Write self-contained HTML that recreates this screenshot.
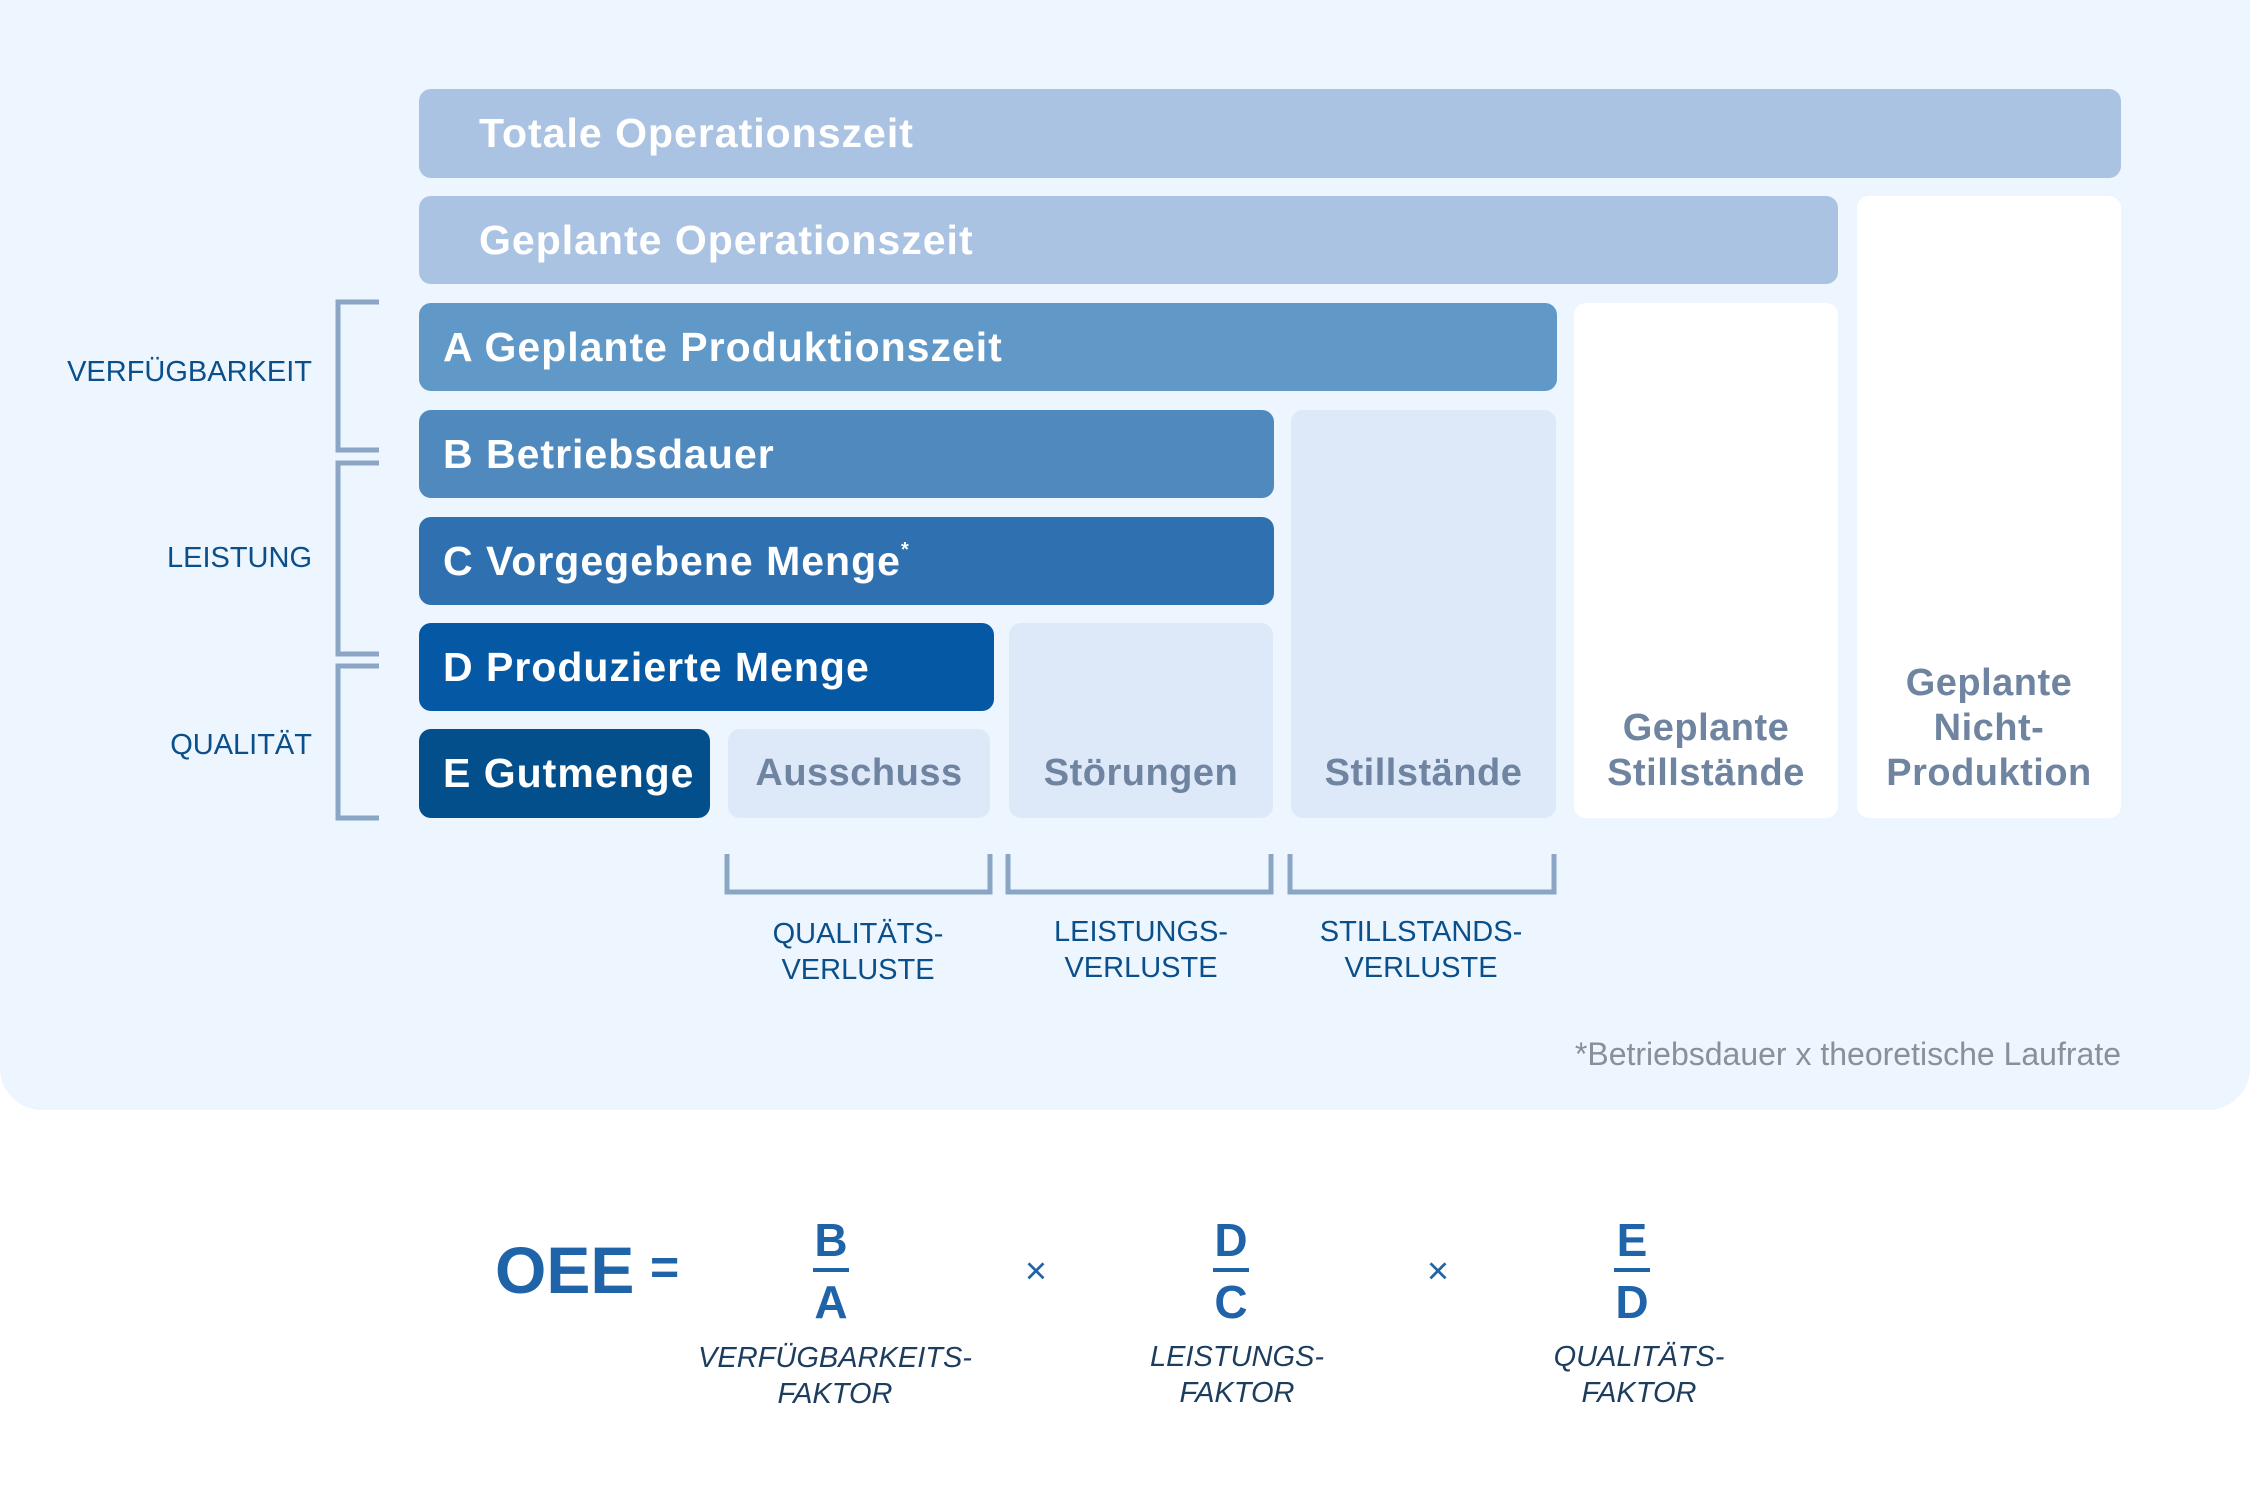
<!DOCTYPE html>
<html><head><meta charset="utf-8"><style>
*{margin:0;padding:0;box-sizing:border-box}
body{width:2250px;height:1494px;background:#fff;position:relative;overflow:hidden;font-family:"Liberation Sans",sans-serif}
.panel{position:absolute;left:0;top:0;width:2250px;height:1110px;background:#edf5fe;border-radius:0 0 42px 42px}
.b{position:absolute;border-radius:12px;color:#fff;font-weight:bold;font-size:41px;letter-spacing:1px;display:flex;align-items:center;padding-left:24px;white-space:nowrap}
.l{position:absolute;border-radius:12px;color:#6f84a0;font-weight:bold;font-size:38px;letter-spacing:0.5px;display:flex;align-items:flex-end;justify-content:center;text-align:center;padding-bottom:22px;line-height:45px}
.lab{position:absolute;color:#0a4f8a;font-size:29px;white-space:nowrap}
.c{position:absolute;color:#0a4f8a;font-size:29px;text-align:center;line-height:36px;transform:translateX(-50%)}
.f{position:absolute;color:#1f63a8;font-weight:bold;font-size:46px;transform:translate(-50%,-50%)}
.cap{position:absolute;color:#1d3d5e;font-style:italic;font-size:29px;text-align:center;line-height:36px;transform:translateX(-50%)}
</style></head><body>
<div class="panel"></div>
<div class="b" style="left:419px;top:89px;width:1702px;height:89px;background:#abc3e2;padding-left:60px">Totale Operationszeit</div>
<div class="b" style="left:419px;top:196px;width:1419px;height:88px;background:#abc3e2;padding-left:60px">Geplante Operationszeit</div>
<div class="l" style="left:1857px;top:196px;width:264px;height:622px;background:#fff">Geplante<br>Nicht-<br>Produktion</div>
<div class="b" style="left:419px;top:303px;width:1138px;height:88px;background:#6098c7">A Geplante Produktionszeit</div>
<div class="l" style="left:1574px;top:303px;width:264px;height:515px;background:#fff">Geplante<br>Stillstände</div>
<div class="b" style="left:419px;top:410px;width:855px;height:88px;background:#5089bd">B Betriebsdauer</div>
<div class="l" style="left:1291px;top:410px;width:265px;height:408px;background:#dde9f9">Stillstände</div>
<div class="b" style="left:419px;top:517px;width:855px;height:88px;background:#2f71b0">C Vorgegebene Menge<sup style="font-size:20px;align-self:flex-start;margin-top:22px">*</sup></div>
<div class="b" style="left:419px;top:623px;width:575px;height:88px;background:#0558a4">D Produzierte Menge</div>
<div class="l" style="left:1009px;top:623px;width:264px;height:195px;background:#dde9f9">Störungen</div>
<div class="b" style="left:419px;top:729px;width:291px;height:89px;background:#034f8c">E Gutmenge</div>
<div class="l" style="left:728px;top:729px;width:262px;height:89px;background:#dde9f9">Ausschuss</div>

<svg style="position:absolute;left:0;top:0" width="2250" height="1110">
<g fill="none" stroke="#8aa6c4" stroke-width="5">
<polyline points="379,302 338,302 338,450 379,450"/>
<polyline points="379,463 338,463 338,654 379,654"/>
<polyline points="379,666 338,666 338,818 379,818"/>
<polyline points="727,854 727,892 990,892 990,854"/>
<polyline points="1008,854 1008,892 1271,892 1271,854"/>
<polyline points="1290,854 1290,892 1554,892 1554,854"/>
</g></svg>
<div class="lab" style="right:1938px;top:356px">VERFÜGBARKEIT</div>
<div class="lab" style="right:1938px;top:542px">LEISTUNG</div>
<div class="lab" style="right:1938px;top:729px">QUALITÄT</div>
<div class="c" style="left:858px;top:916px">QUALITÄTS-<br>VERLUSTE</div>
<div class="c" style="left:1141px;top:914px">LEISTUNGS-<br>VERLUSTE</div>
<div class="c" style="left:1421px;top:914px">STILLSTANDS-<br>VERLUSTE</div>
<div style="position:absolute;right:129px;top:1036px;color:#8a8f99;font-size:32px">*Betriebsdauer x theoretische Laufrate</div>

<div style="position:absolute;left:495px;top:1232px;color:#1f63a8;font-weight:bold;font-size:66px">OEE</div>
<div style="position:absolute;left:650px;top:1238px;color:#1f63a8;font-weight:bold;font-size:50px">=</div>
<div class="f" style="left:831px;top:1240px">B</div>
<div style="position:absolute;left:813px;top:1268px;width:36px;height:4px;background:#1f63a8"></div>
<div class="f" style="left:831px;top:1302px">A</div>
<div class="f" style="left:1231px;top:1240px">D</div>
<div style="position:absolute;left:1213px;top:1268px;width:36px;height:4px;background:#1f63a8"></div>
<div class="f" style="left:1231px;top:1302px">C</div>
<div class="f" style="left:1632px;top:1240px">E</div>
<div style="position:absolute;left:1614px;top:1268px;width:36px;height:4px;background:#1f63a8"></div>
<div class="f" style="left:1632px;top:1302px">D</div>
<div class="f" style="left:1036px;top:1272px;font-weight:normal;font-size:38px">×</div>
<div class="f" style="left:1438px;top:1272px;font-weight:normal;font-size:38px">×</div>
<div class="cap" style="left:835px;top:1340px">VERFÜGBARKEITS-<br>FAKTOR</div>
<div class="cap" style="left:1237px;top:1339px">LEISTUNGS-<br>FAKTOR</div>
<div class="cap" style="left:1639px;top:1339px">QUALITÄTS-<br>FAKTOR</div>
</body></html>
